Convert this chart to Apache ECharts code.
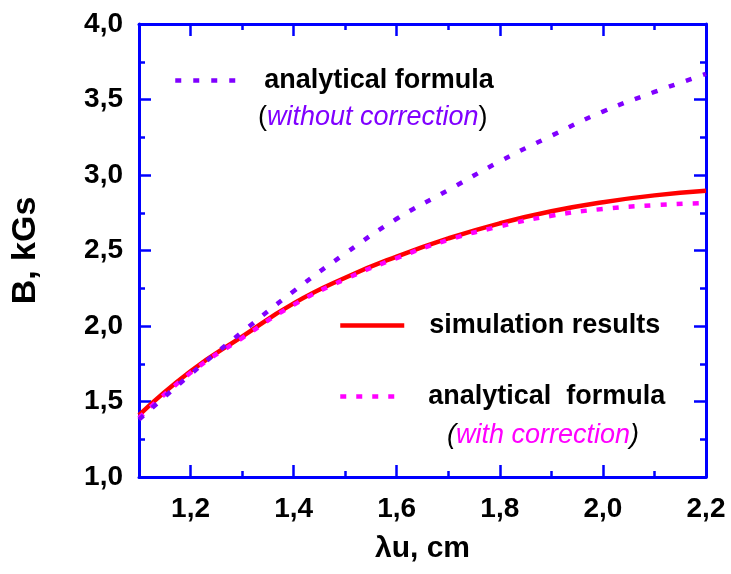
<!DOCTYPE html>
<html>
<head>
<meta charset="utf-8">
<script src="https://cdn.jsdelivr.net/npm/echarts@6/dist/echarts.min.js"></script>
<style>html,body{margin:0;padding:0;background:#fff}#c{width:731px;height:574px}</style>
</head>
<body>
<div id="c"></div>
<script>
const lambda = [1.1, 1.2, 1.3, 1.4, 1.5, 1.6, 1.7, 1.8, 1.9, 2.0, 2.1, 2.2];
const simulation = [1.41, 1.70, 1.93, 2.15, 2.32, 2.46, 2.58, 2.68, 2.76, 2.82, 2.865, 2.895];
const withCorrection = [1.39, 1.69, 1.92, 2.14, 2.31, 2.45, 2.57, 2.66, 2.73, 2.775, 2.80, 2.815];
const withoutCorrection = [1.38, 1.68, 1.96, 2.23, 2.48, 2.71, 2.90, 3.09, 3.26, 3.42, 3.55, 3.67];
const xMajorTicks = [1.2, 1.4, 1.6, 1.8, 2.0, 2.2];
const xMinorTicks = [1.3, 1.5, 1.7, 1.9, 2.1];
const yTickInterval = 0.5;

const FONT = '"Liberation Sans", Arial, sans-serif';
const BLUE = '#0000ff';
const fmt = v => Number(v).toFixed(1).replace('.', ',');
const pairs = arr => lambda.map((x, i) => [x, arr[i]]);

function xAx(position, ticks, len, showLine, showLabel, extra) {
  return Object.assign({
    type: 'value', position: position, min: 1.1, max: 2.2,
    axisLine: {show: showLine, lineStyle: {color: BLUE, width: 3}},
    axisTick: {show: true, inside: true, length: len, customValues: ticks, lineStyle: {color: BLUE, width: 2.5}},
    axisLabel: {show: showLabel, customValues: ticks, formatter: fmt, color: '#000', fontFamily: FONT, fontWeight: 'bold', fontSize: 28, margin: 18},
    splitLine: {show: false}
  }, extra || {});
}
function yAx(position, showLabel, extra) {
  return Object.assign({
    type: 'value', position: position, min: 1.0, max: 4.0, interval: yTickInterval,
    axisLine: {show: true, lineStyle: {color: BLUE, width: 3}},
    axisTick: {show: true, inside: true, length: 12, lineStyle: {color: BLUE, width: 2.5}},
    minorTick: {show: true, splitNumber: 2, length: 6, lineStyle: {color: BLUE, width: 2.5}},
    axisLabel: {show: showLabel, formatter: fmt, color: '#000', fontFamily: FONT, fontWeight: 'bold', fontSize: 28, margin: 16},
    splitLine: {show: false}, minorSplitLine: {show: false}
  }, extra || {});
}

const legendText = {color: '#000', fontFamily: FONT, fontWeight: 'bold', fontSize: 27, padding: [0, 0, 0, 24]};
function legendOf(name, left, top, width, dash, pad) {
  return {
    data: [name], left: left, top: top, padding: 0, itemWidth: width, itemHeight: 14,
    textStyle: Object.assign({}, legendText, {padding: [0, 0, 0, pad]}),
    itemStyle: {opacity: 0},
    lineStyle: {width: 4.5, type: dash},
    selectedMode: false
  };
}

const option = {
  animation: false,
  backgroundColor: '#fff',
  grid: {left: 139, right: 25, top: 24, bottom: 97, containLabel: false},
  xAxis: [
    xAx('bottom', xMajorTicks, 12, true, true, {
      name: 'λu, cm', nameLocation: 'middle', nameGap: 57,
      nameTextStyle: {color: '#000', fontFamily: FONT, fontWeight: 'bold', fontSize: 30}
    }),
    xAx('bottom', xMinorTicks, 6, false, false),
    xAx('top', xMajorTicks, 12, true, false),
    xAx('top', xMinorTicks, 6, false, false)
  ],
  yAxis: [
    yAx('left', true, {
      name: 'B, kGs', nameLocation: 'middle', nameGap: 96,
      nameTextStyle: {color: '#000', fontFamily: FONT, fontWeight: 'bold', fontSize: 34}
    }),
    yAx('right', false)
  ],
  legend: [
    legendOf('analytical formula', 173, 67, 60, [6, 12], 24),
    legendOf('simulation results', 338, 312, 64, 'solid', 20),
    legendOf('analytical  formula', 338, 383, 60, [6, 10], 23)
  ],
  graphic: [
    {type: 'text', left: 258, top: 104, style: {
      text: '{p|(}{i|without correction}{p|)}',
      rich: {
        p: {fontFamily: FONT, fontSize: 27, fill: '#000'},
        i: {fontFamily: FONT, fontSize: 27, fontStyle: 'italic', fill: '#8000ff'}
      }
    }},
    {type: 'text', left: 447, top: 422, style: {
      text: '{p|(}{i|with correction}{p|)}',
      rich: {
        p: {fontFamily: FONT, fontSize: 27, fontStyle: 'italic', fill: '#000'},
        i: {fontFamily: FONT, fontSize: 27, fontStyle: 'italic', fill: '#ff00ff'}
      }
    }}
  ],
  series: [
    {name: 'simulation results', type: 'line', data: pairs(simulation), smooth: true, showSymbol: false, symbol: 'none',
      lineStyle: {color: '#ff0000', width: 4.5}, itemStyle: {color: '#ff0000'}},
    {name: 'analytical  formula', type: 'line', data: pairs(withCorrection), smooth: true, showSymbol: false, symbol: 'none',
      lineStyle: {color: '#ff00ff', width: 4.5, type: [6, 10]}, itemStyle: {color: '#ff00ff'}},
    {name: 'analytical formula', type: 'line', data: pairs(withoutCorrection), smooth: true, showSymbol: false, symbol: 'none',
      lineStyle: {color: '#8000ff', width: 4.5, type: [6, 12]}, itemStyle: {color: '#8000ff'}}
  ]
};
const chart = echarts.init(document.getElementById('c'), null, {renderer: 'canvas'});
chart.setOption(option);
</script>
</body>
</html>
